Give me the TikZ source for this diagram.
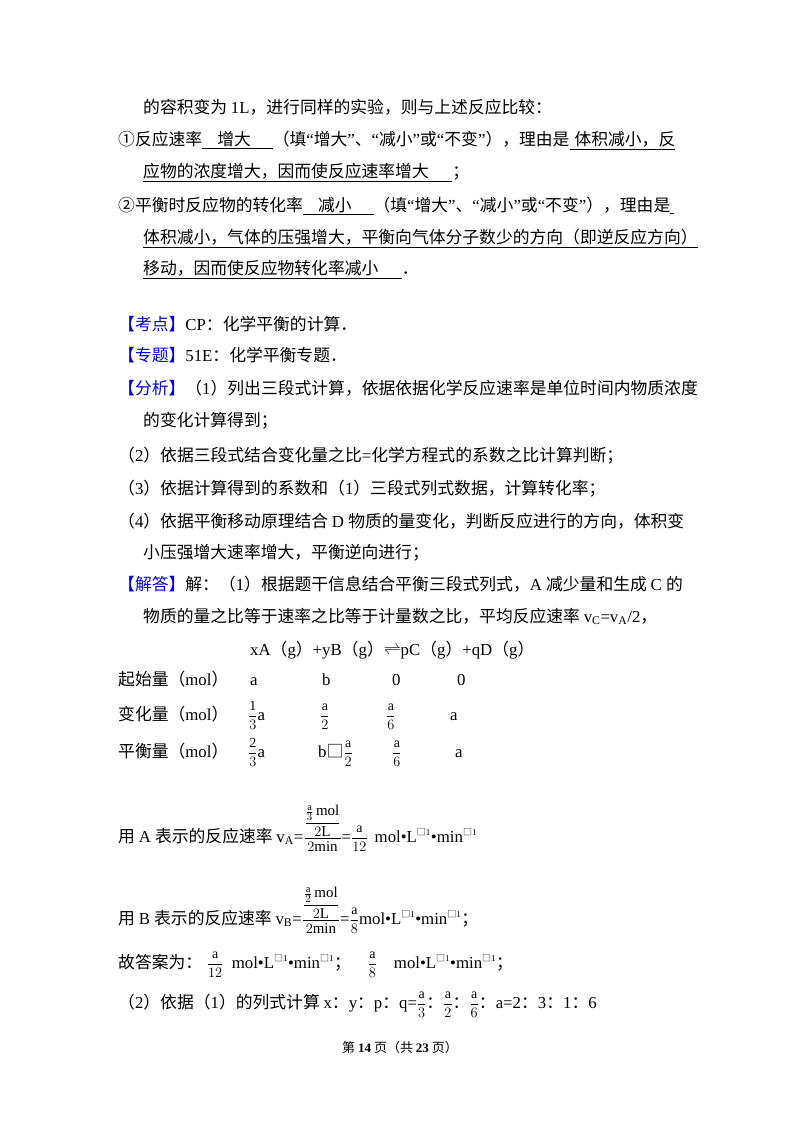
\documentclass[tikz,border=0pt]{standalone}
\usepackage{amsmath}
\usepackage{fontspec}
\setmainfont{Liberation Serif}
\newfontfamily\cjk{Noto Sans CJK SC}
\XeTeXinterchartokenstate=1
\newXeTeXintercharclass\cjkclass
\newcount\cc
\cc="3000 \loop \XeTeXcharclass\cc=\cjkclass \advance\cc by 1 \ifnum\cc<"A000 \repeat
\cc="FF00 \loop \XeTeXcharclass\cc=\cjkclass \advance\cc by 1 \ifnum\cc<"FFF0 \repeat
\cc="2460 \loop \XeTeXcharclass\cc=\cjkclass \advance\cc by 1 \ifnum\cc<"2474 \repeat
\XeTeXcharclass"25A1=\cjkclass
\XeTeXinterchartoks 0 \cjkclass {\cjk}
\XeTeXinterchartoks 4095 \cjkclass {\cjk}
\XeTeXinterchartoks \cjkclass 0 {\rmfamily}
\XeTeXinterchartoks 4095 0 {\rmfamily}
\definecolor{kblue}{RGB}{0,0,230}
\newcommand{\ul}[1]{\underline{#1}}
\newcommand{\fr}[2]{{\fontsize{14}{16}\selectfont$\dfrac{\mathrm{#1}}{#2}$}}
\newcommand{\sq}{\textsuperscript{\fontsize{9}{10}\selectfont□1}}
\begin{document}
\begin{tikzpicture}[x=1pt,y=-1pt,every node/.style={font=\fontsize{16.8}{20}\selectfont,anchor=base west,inner sep=0pt}]
\useasboundingbox (0,0) rectangle (800,1132);
\fill[white] (0,0) rectangle (800,1132);
\node (l1) at (143,113) {的容积变为 1L，进行同样的实验，则与上述反应比较：};
\node (l2) at (118,145) {①反应速率\ul{\hspace{0.9em}增大\hspace{1.3em}}（填“增大”、“减小”或“不变”），理由是\ul{\hspace{0.3em}体积减小，反}};
\node (l3) at (143,177) {\ul{应物的浓度增大，因而使反应速率增大\hspace{1.4em}}；};
\node (l4) at (118,211) {②平衡时反应物的转化率\ul{\hspace{0.9em}减小\hspace{1.3em}}（填“增大”、“减小”或“不变”），理由是\ul{\hspace{0.2em}}};
\node (l5) at (143,243) {\ul{体积减小，气体的压强增大，平衡向气体分子数少的方向（即逆反应方向）}};
\node (l6) at (143,274) {\ul{移动，因而使反应物转化率减小\hspace{1.4em}}．};
\node (k1) at (118,330) {{\color{kblue}【考点】}CP：化学平衡的计算．};
\node (k2) at (118,361) {{\color{kblue}【专题】}51E：化学平衡专题．};
\node (k3) at (118,394) {{\color{kblue}【分析】}（1）列出三段式计算，依据依据化学反应速率是单位时间内物质浓度};
\node (k4) at (143,426) {的变化计算得到；};
\node (k5) at (118,461) {（2）依据三段式结合变化量之比=化学方程式的系数之比计算判断；};
\node (k6) at (118,494) {（3）依据计算得到的系数和（1）三段式列式数据，计算转化率；};
\node (k7) at (118,527) {（4）依据平衡移动原理结合 D 物质的量变化，判断反应进行的方向，体积变};
\node (k8) at (143,558) {小压强增大速率增大，平衡逆向进行；};
\node (j1) at (118,590) {{\color{kblue}【解答】}解：（1）根据题干信息结合平衡三段式列式，A 减少量和生成 C 的};
\node (j2) at (143,622) {物质的量之比等于速率之比等于计量数之比，平均反应速率 v\textsubscript{C}=v\textsubscript{A}/2，};
\node (eq) at (250,655) {xA（g）+yB（g）$\rightleftharpoons$pC（g）+qD（g）};
\node (r1) at (118,685) {起始量（mol）};
\node (r1a) at (250,685) {a};
\node (r1b) at (322,685) {b};
\node (r1c) at (392,685) {0};
\node (r1d) at (457,685) {0};
\node (r2) at (118,720) {变化量（mol）};
\node (r2a) at (248,720) {\fr{1}{3}a};
\node (r2b) at (320,720) {\fr{a}{2}};
\node (r2c) at (386,720) {\fr{a}{6}};
\node (r2d) at (450,720) {a};
\node (r3) at (118,757) {平衡量（mol）};
\node (r3a) at (248,757) {\fr{2}{3}a};
\node (r3b) at (318,757) {b□\fr{a}{2}};
\node (r3c) at (392,757) {\fr{a}{6}};
\node (r3d) at (455,757) {a};
\node (va) at (118,842) {用 A 表示的反应速率 v\textsubscript{A}={\fontsize{15}{17}\selectfont$\dfrac{\dfrac{\frac{\mathrm{a}}{3}\,\mathrm{mol}}{2\mathrm{L}}}{2\mathrm{min}}$}=\fr{a}{12}\, mol•L\sq•min\sq};
\node (vb) at (118,924) {用 B 表示的反应速率 v\textsubscript{B}={\fontsize{15}{17}\selectfont$\dfrac{\dfrac{\frac{\mathrm{a}}{2}\,\mathrm{mol}}{2\mathrm{L}}}{2\mathrm{min}}$}=\fr{a}{8}mol•L\sq•min\sq；};
\node (gd) at (118,968) {故答案为：\;\fr{a}{12}\; mol•L\sq•min\sq；\quad\fr{a}{8}\quad mol•L\sq•min\sq；};
\node (j3) at (118,1008) {（2）依据（1）的列式计算 x：y：p：q=\fr{a}{3}：\fr{a}{2}：\fr{a}{6}：a=2：3：1：6};
\node[anchor=base,font=\fontsize{13}{15}\selectfont] (ft) at (400,1052) {第 \textbf{14} 页（共 \textbf{23} 页）};
\end{tikzpicture}
\end{document}
